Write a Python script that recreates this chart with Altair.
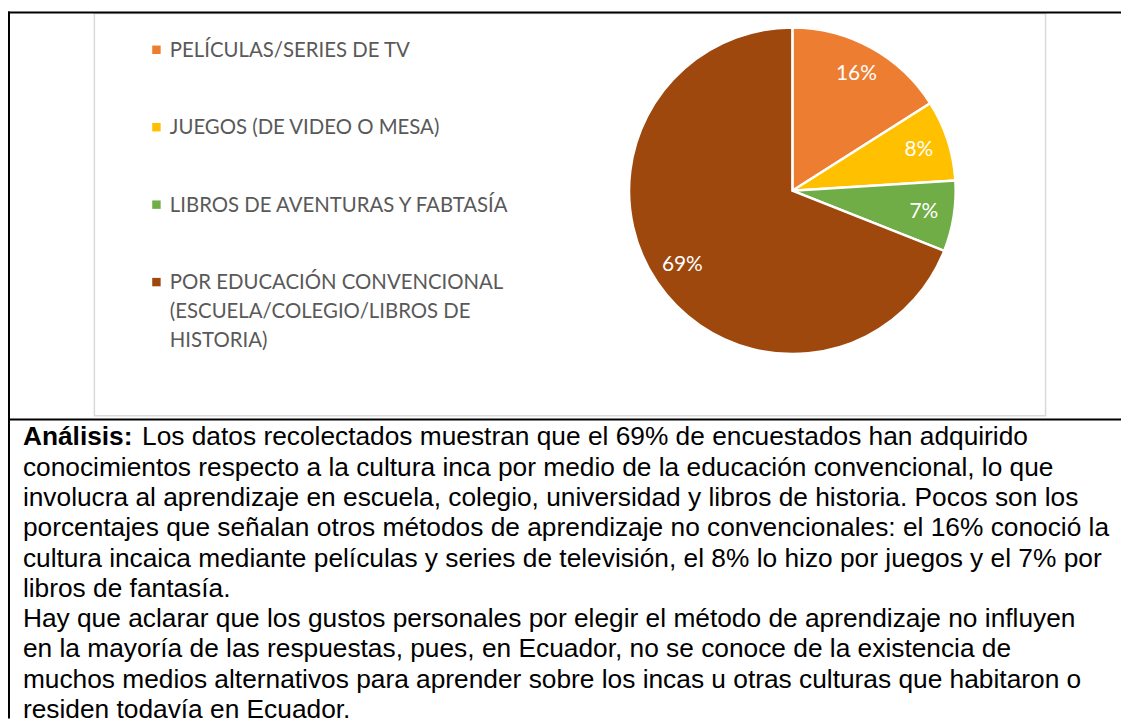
import math
import altair as alt
import pandas as pd

# ---------------- data ----------------
categories = [
    "PELÍCULAS/SERIES DE TV",
    "JUEGOS (DE VIDEO O MESA)",
    "LIBROS DE AVENTURAS Y FABTASÍA",
    "POR EDUCACIÓN CONVENCIONAL (ESCUELA/COLEGIO/LIBROS DE HISTORIA)",
]
legend_labels = [
    "PELÍCULAS/SERIES DE TV",
    "JUEGOS (DE VIDEO O MESA)",
    "LIBROS DE AVENTURAS Y FABTASÍA",
    "POR EDUCACIÓN CONVENCIONAL\n(ESCUELA/COLEGIO/LIBROS DE\nHISTORIA)",
]
values = [16, 8, 7, 69]
colors = ["#ED7D31", "#FFC000", "#70AD47", "#9E480E"]

analysis_bold = "Análisis:"
analysis_lines = [
    "Los datos recolectados muestran que el 69% de encuestados han adquirido",
    "conocimientos respecto a la cultura inca por medio de la educación convencional, lo que",
    "involucra al aprendizaje en escuela, colegio, universidad y libros de historia. Pocos son los",
    "porcentajes que señalan otros métodos de aprendizaje no convencionales: el 16% conoció la",
    "cultura incaica mediante películas y series de televisión, el 8% lo hizo por juegos y el 7% por",
    "libros de fantasía.",
    "Hay que aclarar que los gustos personales por elegir el método de aprendizaje no influyen",
    "en la mayoría de las respuestas, pues, en Ecuador, no se conoce de la existencia de",
    "muchos medios alternativos para aprender sobre los incas u otras culturas que habitaron o",
    "residen todavía en Ecuador.",
]

# ---------------- layout (plot coords = page - 8) ----------------
W, H = 1121, 713
CX, CY, R = 790, 181.5, 164.5
LABEL_R = 134
LEG_X, LEG_Y0, LEG_DY = 149.5, 46.5, 78
TXT_X, TXT_Y0, TXT_DY = 15, 438, 30.5
FONT_PARA = "Liberation Sans"
PARA_SIZE = 26.5

pie_df = pd.DataFrame({
    "cat": categories,
    "value": values,
    "ord": list(range(len(values))),
    "label": [f"{v}%" for v in values],
})

leg_df = pd.DataFrame({
    "cat": categories,
    "text": legend_labels,
    "py": [LEG_Y0 + LEG_DY * i for i in range(len(categories))],
})

para_df = pd.DataFrame({
    "text": analysis_lines,
    "py": [TXT_Y0 + TXT_DY * i for i in range(len(analysis_lines))],
    "px": [TXT_X + (120 if i == 0 else 0) for i in range(len(analysis_lines))],
})

one = pd.DataFrame({"k": [0]})
color_scale = alt.Scale(domain=categories, range=colors)

# frame lines
top_rule = alt.Chart(one).mark_rule(color="black", strokeWidth=2).encode(
    x=alt.value(0), x2=alt.value(W), y=alt.value(2))
mid_rule = alt.Chart(one).mark_rule(color="black", strokeWidth=2).encode(
    x=alt.value(0), x2=alt.value(W), y=alt.value(412))
left_rule = alt.Chart(one).mark_rule(color="black", strokeWidth=2).encode(
    x=alt.value(1), y=alt.value(1), y2=alt.value(H))

chart_box = alt.Chart(one).mark_rect(fill="white", stroke="#D9D9D9", strokeWidth=1.5).encode(
    x=alt.value(87), x2=alt.value(1045), y=alt.value(3), y2=alt.value(408))

arc = alt.Chart(pie_df).mark_arc(radius=R, stroke="white", strokeWidth=2.5).encode(
    theta=alt.Theta("value:Q", stack=True),
    color=alt.Color("cat:N", scale=color_scale, legend=None),
    order=alt.Order("ord:Q"),
    x=alt.value(CX), y=alt.value(CY),
)

arc_labels = alt.Chart(pie_df).mark_text(
    radius=LABEL_R, font="Lato", fontSize=21, color="white", align="center", baseline="middle"
).encode(
    theta=alt.Theta("value:Q", stack=True),
    order=alt.Order("ord:Q"),
    text="label:N",
    x=alt.value(CX), y=alt.value(CY),
)

leg_sym = alt.Chart(leg_df).mark_square(size=72, opacity=1).encode(
    x=alt.value(LEG_X),
    y=alt.Y("py:Q", scale=None),
    color=alt.Color("cat:N", scale=color_scale, legend=None),
)
leg_sym = leg_sym.transform_calculate(py="datum.py - 7")

leg_txt = alt.Chart(leg_df).mark_text(
    font="Lato", fontSize=20.5, color="#595959", align="left", baseline="alphabetic",
    lineBreak="\n", lineHeight=29,
).encode(
    x=alt.value(LEG_X + 13.5),
    y=alt.Y("py:Q", scale=None),
    text="text:N",
)

bold_txt = alt.Chart(one).mark_text(
    font=FONT_PARA, fontSize=PARA_SIZE, fontWeight="bold", color="black",
    align="left", baseline="alphabetic", text=analysis_bold,
).encode(x=alt.value(TXT_X), y=alt.value(TXT_Y0))

para_txt = alt.Chart(para_df).mark_text(
    font=FONT_PARA, fontSize=PARA_SIZE, color="black", align="left", baseline="alphabetic",
).encode(
    x=alt.X("px:Q", scale=None),
    y=alt.Y("py:Q", scale=None),
    text="text:N",
)

chart = alt.layer(
    chart_box, top_rule, mid_rule, left_rule, arc, arc_labels, leg_sym, leg_txt, bold_txt, para_txt
).properties(
    width=W, height=H, padding=0, autosize="none", background="white"
).configure_view(stroke=None)

chart.save("out.html", embed_options={"renderer": "svg", "actions": False})
